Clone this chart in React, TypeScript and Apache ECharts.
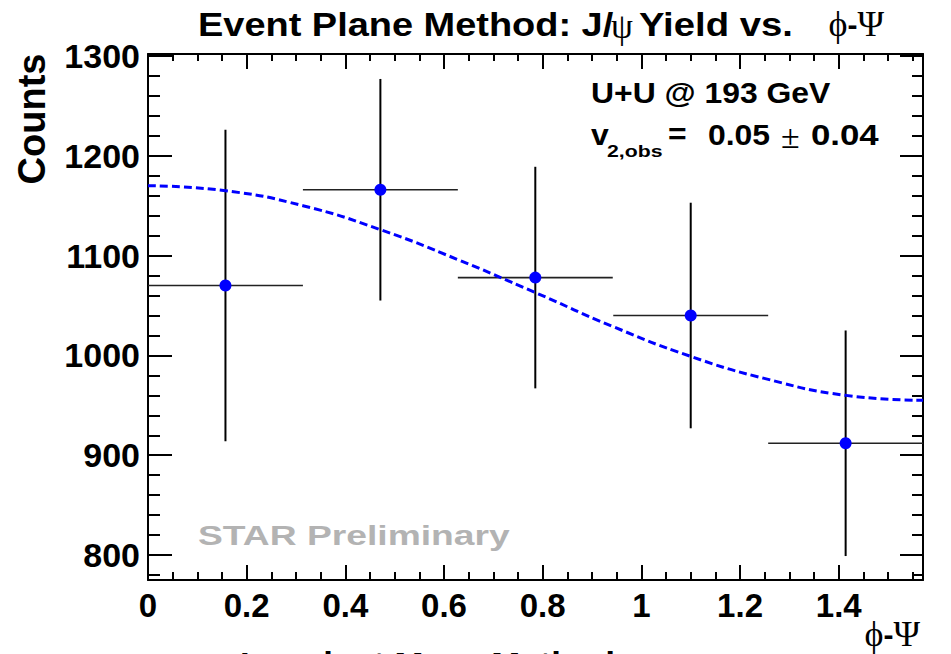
import { useEffect, useRef } from "react";
import * as echarts from "echarts";

// ---- data ----
const X_MIN = 0;
const X_MAX = 1.5708;
const Y_MIN = 775;
const Y_MAX = 1302;

const BIN_CENTERS = [0.157, 0.471, 0.785, 1.1, 1.414];
const BIN_HALF_WIDTHS = [0.157, 0.157, 0.157, 0.157, 0.157];
const COUNTS = [1070, 1166, 1078, 1040, 912];
const COUNT_ERRORS = [156, 111, 111, 113, 113];

const FIT_X = [0, 0.157, 0.314, 0.471, 0.628, 0.785, 0.942, 1.1, 1.257, 1.414, 1.571];
const FIT_Y = [1170, 1165, 1150, 1126, 1096, 1063, 1029, 999, 976, 960, 955];

const X_MAJOR_TICKS = [0, 0.2, 0.4, 0.6, 0.8, 1.0, 1.2, 1.4];
const X_TICK_LABELS = ["0", "0.2", "0.4", "0.6", "0.8", "1", "1.2", "1.4"];
const X_MINOR_TICKS = [
  0.05, 0.1, 0.15, 0.25, 0.3, 0.35, 0.45, 0.5, 0.55, 0.65, 0.7, 0.75, 0.85, 0.9, 0.95,
  1.05, 1.1, 1.15, 1.25, 1.3, 1.35, 1.45, 1.5, 1.55,
];
const Y_MAJOR_TICKS = [800, 900, 1000, 1100, 1200, 1300];
const Y_TICK_LABELS = ["800", "900", "1000", "1100", "1200", "1300"];
const Y_MINOR_TICKS = [
  780, 820, 840, 860, 880, 920, 940, 960, 980, 1020, 1040, 1060, 1080, 1120, 1140, 1160,
  1180, 1220, 1240, 1260, 1280,
];

const TITLE_MAIN = "Event Plane Method: J/";
const TITLE_PSI = "ψ";
const TITLE_MID = "Yield vs.";
const X_TITLE = "{s|ϕ}{d|-}{s|Ψ}";
const Y_TITLE = "Counts";
const COLLISION = "U+U @ 193 GeV";
const V2_SYMBOL = "v";
const V2_SUB = "2,obs";
const V2_EQ = "=";
const V2_VALUE = "0.05";
const V2_PM = "±";
const V2_ERR = "0.04";
const WATERMARK = "STAR Preliminary";
const BOTTOM_TEXT = "Invariant Mass Method";

const SANS = '"Liberation Sans", Arial, Helvetica, sans-serif';
const SERIF = '"Liberation Serif", "Times New Roman", serif';

function labelFor(ticks: number[], labels: string[]) {
  return (v: number) => {
    const i = ticks.findIndex((t) => Math.abs(t - v) < 1e-6);
    return i >= 0 ? labels[i] : "";
  };
}

function axis(extra: any, min: number, max: number) {
  return {
    type: "value",
    min,
    max,
    splitLine: { show: false },
    axisPointer: { show: false },
    axisLine: { show: false, onZero: false },
    axisLabel: { show: false },
    axisTick: { show: false },
    ...extra,
  };
}

const frameLine = { show: true, onZero: false, lineStyle: { color: "#000", width: 2 } };

function ticks(values: number[], length: number) {
  return {
    show: true,
    inside: true,
    length,
    customValues: values,
    lineStyle: { color: "#000", width: 2 },
  };
}

const phiPsiRich = {
  s: { fontFamily: SERIF, fontSize: 36, fill: "#000", lineHeight: 30 },
  d: { fontFamily: SANS, fontWeight: "bold", fontSize: 30, fill: "#000", lineHeight: 30 },
};

export default function App() {
  const ref = useRef<HTMLDivElement>(null);

  useEffect(() => {
    if (!ref.current) return;
    const chart = echarts.init(ref.current, undefined, { renderer: "svg" });

    const errorData = BIN_CENTERS.map((c, i) => [c, COUNTS[i], COUNT_ERRORS[i], BIN_HALF_WIDTHS[i]]);
    const fitData = FIT_X.map((x, i) => [x, FIT_Y[i]]);
    const pointData = BIN_CENTERS.map((c, i) => [c, COUNTS[i]]);

    const labelFont = { fontFamily: SANS, fontWeight: "bold", color: "#000" };
    const bold = (size: number) => ({ fontFamily: SANS, fontWeight: "bold", fontSize: size, fill: "#000", align: "left", verticalAlign: "middle" });

    chart.setOption({
      animation: false,
      backgroundColor: "#fff",
      grid: { left: 148, top: 54, width: 775, height: 526, containLabel: false },
      xAxis: [
        axis(
          {
            position: "bottom",
            axisLine: frameLine,
            axisTick: ticks(X_MAJOR_TICKS, 15),
            axisLabel: {
              show: true,
              customValues: X_MAJOR_TICKS,
              formatter: labelFor(X_MAJOR_TICKS, X_TICK_LABELS),
              margin: 9,
              fontSize: 33,
              ...labelFont,
            },
          },
          X_MIN,
          X_MAX
        ),
        axis({ position: "bottom", axisTick: ticks(X_MINOR_TICKS, 8) }, X_MIN, X_MAX),
        axis({ position: "top", axisLine: frameLine, axisTick: ticks(X_MAJOR_TICKS, 15) }, X_MIN, X_MAX),
        axis({ position: "top", axisTick: ticks(X_MINOR_TICKS, 7) }, X_MIN, X_MAX),
      ],
      yAxis: [
        axis(
          {
            position: "left",
            axisLine: frameLine,
            axisTick: ticks(Y_MAJOR_TICKS, 24),
            axisLabel: {
              show: true,
              customValues: Y_MAJOR_TICKS,
              formatter: labelFor(Y_MAJOR_TICKS, Y_TICK_LABELS),
              margin: 8,
              fontSize: 34,
              ...labelFont,
            },
          },
          Y_MIN,
          Y_MAX
        ),
        axis({ position: "left", axisTick: ticks(Y_MINOR_TICKS, 12) }, Y_MIN, Y_MAX),
        axis({ position: "right", axisLine: frameLine, axisTick: ticks(Y_MAJOR_TICKS, 23) }, Y_MIN, Y_MAX),
        axis({ position: "right", axisTick: ticks(Y_MINOR_TICKS, 11) }, Y_MIN, Y_MAX),
      ],
      series: [
        {
          type: "custom",
          xAxisIndex: 0,
          yAxisIndex: 0,
          z: 2,
          data: errorData,
          encode: { x: 0, y: 1 },
          renderItem: (_params: any, api: any) => {
            const x = api.value(0);
            const y = api.value(1);
            const e = api.value(2);
            const h = api.value(3);
            const top = api.coord([x, y + e]);
            const bot = api.coord([x, y - e]);
            const left = api.coord([x - h, y]);
            const right = api.coord([x + h, y]);
            return {
              type: "group",
              children: [
                {
                  type: "line",
                  shape: { x1: left[0], y1: left[1], x2: right[0], y2: right[1] },
                  style: { stroke: "#222", lineWidth: 1.6 },
                },
                {
                  type: "line",
                  shape: { x1: top[0], y1: top[1], x2: bot[0], y2: bot[1] },
                  style: { stroke: "#000", lineWidth: 2 },
                },
              ],
            };
          },
        },
        {
          type: "line",
          xAxisIndex: 0,
          yAxisIndex: 0,
          z: 3,
          data: fitData,
          smooth: true,
          showSymbol: false,
          symbol: "none",
          lineStyle: { color: "#0000ff", width: 3, type: [8, 4] },
        },
        {
          type: "scatter",
          xAxisIndex: 0,
          yAxisIndex: 0,
          z: 4,
          data: pointData,
          symbol: "circle",
          symbolSize: 12,
          itemStyle: { color: "#0000ff", opacity: 1 },
        },
      ],
      graphic: [
        { type: "text", x: 198, y: 25, scaleX: 1.15, style: { text: TITLE_MAIN, ...bold(33) } },
        {
          type: "text",
          x: 611,
          y: 26,
          style: { text: TITLE_PSI, fontFamily: SERIF, fontSize: 35, fill: "#000", align: "left", verticalAlign: "middle" },
        },
        { type: "text", x: 639, y: 25, scaleX: 1.16, style: { text: TITLE_MID, ...bold(33) } },
        {
          type: "text",
          x: 884,
          y: 24,
          style: { text: X_TITLE, align: "right", verticalAlign: "middle", rich: phiPsiRich },
        },
        {
          type: "text",
          x: 920,
          y: 634,
          style: { text: X_TITLE, align: "right", verticalAlign: "middle", rich: phiPsiRich },
        },
        {
          type: "text",
          x: 32,
          y: 119,
          rotation: Math.PI / 2,
          style: { text: Y_TITLE, fontFamily: SANS, fontWeight: "bold", fontSize: 38, fill: "#000", align: "center", verticalAlign: "middle" },
        },
        { type: "text", x: 591, y: 93, scaleX: 1.1, style: { text: COLLISION, ...bold(29) } },
        { type: "text", x: 591, y: 135, scaleX: 1.1, style: { text: V2_SYMBOL, ...bold(29) } },
        { type: "text", x: 607, y: 151, scaleX: 1.25, style: { text: V2_SUB, ...bold(17) } },
        { type: "text", x: 668, y: 134, scaleX: 1.1, style: { text: V2_EQ, ...bold(29) } },
        { type: "text", x: 708, y: 135, scaleX: 1.1, style: { text: V2_VALUE, ...bold(29) } },
        {
          type: "text",
          x: 781,
          y: 136,
          style: { text: V2_PM, fontFamily: SERIF, fontSize: 34, fill: "#000", align: "left", verticalAlign: "middle" },
        },
        { type: "text", x: 811, y: 135, scaleX: 1.2, style: { text: V2_ERR, ...bold(29) } },
        {
          type: "text",
          x: 198,
          y: 535,
          scaleX: 1.33,
          style: { text: WATERMARK, fontFamily: SANS, fontWeight: "bold", fontSize: 28, fill: "#b3b3b3", align: "left", verticalAlign: "middle" },
        },
        { type: "text", x: 240, y: 663, scaleX: 1.16, style: { text: BOTTOM_TEXT, ...bold(30) } },
      ],
    });

    return () => chart.dispose();
  }, []);

  return (
    <div
      ref={ref}
      style={{ position: "absolute", left: 0, top: 0, width: 951, height: 654, background: "#fff" }}
    />
  );
}
